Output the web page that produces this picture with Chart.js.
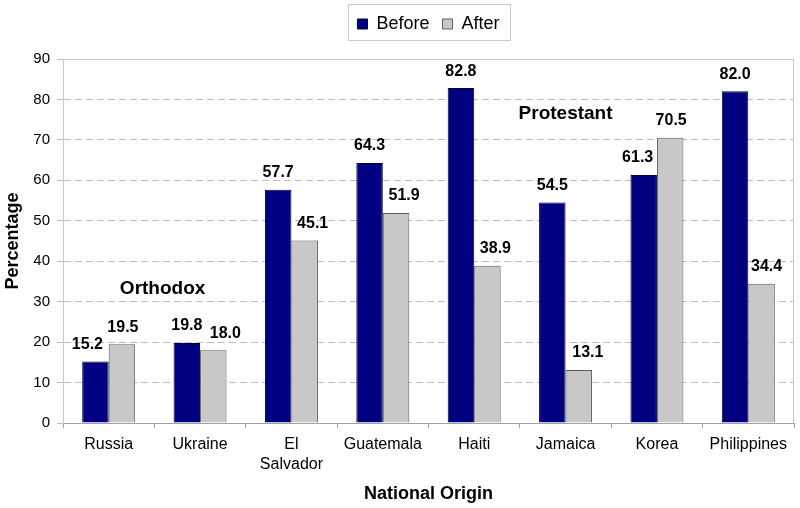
<!DOCTYPE html>
<html>
<head>
<meta charset="utf-8">
<script src="https://cdn.jsdelivr.net/npm/chart.js@4/dist/chart.umd.min.js"></script>
<style>
  html, body { margin: 0; padding: 0; background: #ffffff; }
  #wrap { width: 800px; height: 508px; }
</style>
</head>
<body>
<div id="wrap"><canvas id="c" width="800" height="508"></canvas></div>
<script>
// ---- data ----
const categories = ["Russia", "Ukraine", ["El", "Salvador"], "Guatemala", "Haiti", "Jamaica", "Korea", "Philippines"];
const beforeValues = [15.2, 19.8, 57.7, 64.3, 82.8, 54.5, 61.3, 82.0];
const afterValues  = [19.5, 18.0, 45.1, 51.9, 38.9, 13.1, 70.5, 34.4];
const seriesNames = ["Before", "After"];
const yTicks = [0, 10, 20, 30, 40, 50, 60, 70, 80, 90];
const groupNotes = ["Orthodox", "Protestant"];

const FONT = "Arial, 'Liberation Sans', Helvetica, sans-serif";

const chartPlugin = {
  id: 'extras',
  beforeInit(chart) {
    const legend = chart.legend;
    if (legend) {
      const fit = legend.fit;
      legend.fit = function () { fit.call(this); this.height = 57; };
    }
  },
  afterDatasetsDraw(chart, args, opts) {
    const ctx = chart.ctx;
    ctx.save();
    // value labels
    ctx.font = "bold 16px " + FONT;
    ctx.fillStyle = "#000000";
    ctx.textAlign = "center";
    ctx.textBaseline = "bottom";
    chart.data.datasets.forEach((ds, di) => {
      const meta = chart.getDatasetMeta(di);
      meta.data.forEach((bar, i) => {
        const dx = (opts.nudge[di] || [])[i] || 0;
        ctx.fillText(ds.data[i].toFixed(1), bar.x + dx, bar.y - 9);
      });
    });
    // group notes
    const xs = chart.scales.x, ys = chart.scales.y;
    ctx.font = "bold 19px " + FONT;
    ctx.textBaseline = "middle";
    opts.notes.forEach((n, k) => {
      ctx.fillText(groupNotes[k], xs.getPixelForValue(n.x), ys.getPixelForValue(n.y));
    });
    ctx.restore();
  },
  afterDraw(chart) {
    const ctx = chart.ctx;
    const a = chart.chartArea;
    ctx.save();
    // plot border (top & right)
    ctx.strokeStyle = "#c8c8c8";
    ctx.lineWidth = 1;
    ctx.beginPath();
    ctx.moveTo(Math.round(a.left) + 0.5, Math.round(a.top) + 0.5);
    ctx.lineTo(Math.round(a.right) - 0.5, Math.round(a.top) + 0.5);
    ctx.lineTo(Math.round(a.right) - 0.5, Math.round(a.bottom) + 0.5);
    ctx.stroke();
    // legend box
    const lg = chart.legend;
    if (lg && lg.legendHitBoxes && lg.legendHitBoxes.length) {
      let l = Infinity, r = -Infinity;
      lg.legendHitBoxes.forEach(h => { l = Math.min(l, h.left); r = Math.max(r, h.left + h.width); });
      ctx.strokeStyle = "#c8c8c8";
      ctx.strokeRect(Math.round(l - 9) + 0.5, 4.5, Math.round(r - l + 20), 36);
    }
    ctx.restore();
  }
};

new Chart(document.getElementById('c'), {
  type: 'bar',
  data: {
    labels: categories,
    datasets: [
      {
        label: seriesNames[0],
        data: beforeValues,
        backgroundColor: "#000080",
        borderColor: "#000040",
        borderWidth: 1,
        borderSkipped: 'bottom'
      },
      {
        label: seriesNames[1],
        data: afterValues,
        backgroundColor: "#c8c8c8",
        borderColor: "#5a5a5a",
        borderWidth: 1,
        borderSkipped: 'bottom'
      }
    ]
  },
  options: {
    responsive: false,
    animation: false,
    devicePixelRatio: 1,
    layout: { padding: { left: 0, right: 6, top: 2, bottom: 0 } },
    datasets: { bar: { categoryPercentage: 0.58, barPercentage: 1.0 } },
    plugins: {
      legend: {
        position: 'top',
        fullSize: false,
        labels: {
          boxWidth: 10,
          boxHeight: 10,
          padding: 13,
          color: "#000000",
          font: { family: FONT, size: 18 }
        }
      },
      tooltip: { enabled: false },
      extras: {
        nudge: [[-8, 0, 0, 0, 0, 0, -6, 0], [1, 12, 8, 8, 8, 9, 1, 5]],
        notes: [{ x: 0.59, y: 33.1 }, { x: 5.0, y: 76.5 }]
      }
    },
    scales: {
      x: {
        type: 'category',
        offset: true,
        afterFit(s) { s.height = 85; },
        grid: {
          offset: true,
          drawOnChartArea: false,
          drawTicks: true,
          tickLength: 5,
          color: "#a0a0a0"
        },
        border: { display: true, color: "#a0a0a0" },
        ticks: {
          color: "#000000",
          padding: 7,
          maxRotation: 0,
          autoSkip: false,
          font: { family: FONT, size: 16, lineHeight: 1.25 }
        },
        title: {
          display: true,
          text: "National Origin",
          color: "#000000",
          padding: { top: 0, bottom: 3 },
          font: { family: FONT, size: 18, weight: 'bold' }
        }
      },
      y: {
        min: 0,
        max: 90,
        afterFit(s) { s.width = 63; },
        afterBuildTicks(s) { s.ticks = yTicks.map(v => ({ value: v })); },
        grid: {
          color: "#bdbdbd",
          tickLength: 6,
          drawTicks: true
        },
        border: { display: true, color: "#c8c8c8", dash: [7, 4] },
        ticks: {
          color: "#000000",
          padding: 7,
          font: { family: FONT, size: 15 }
        },
        title: {
          display: true,
          text: "Percentage",
          color: "#000000",
          padding: { top: 2, bottom: 0 },
          font: { family: FONT, size: 18, weight: 'bold' }
        }
      }
    }
  },
  plugins: [chartPlugin]
});
</script>
</body>
</html>
